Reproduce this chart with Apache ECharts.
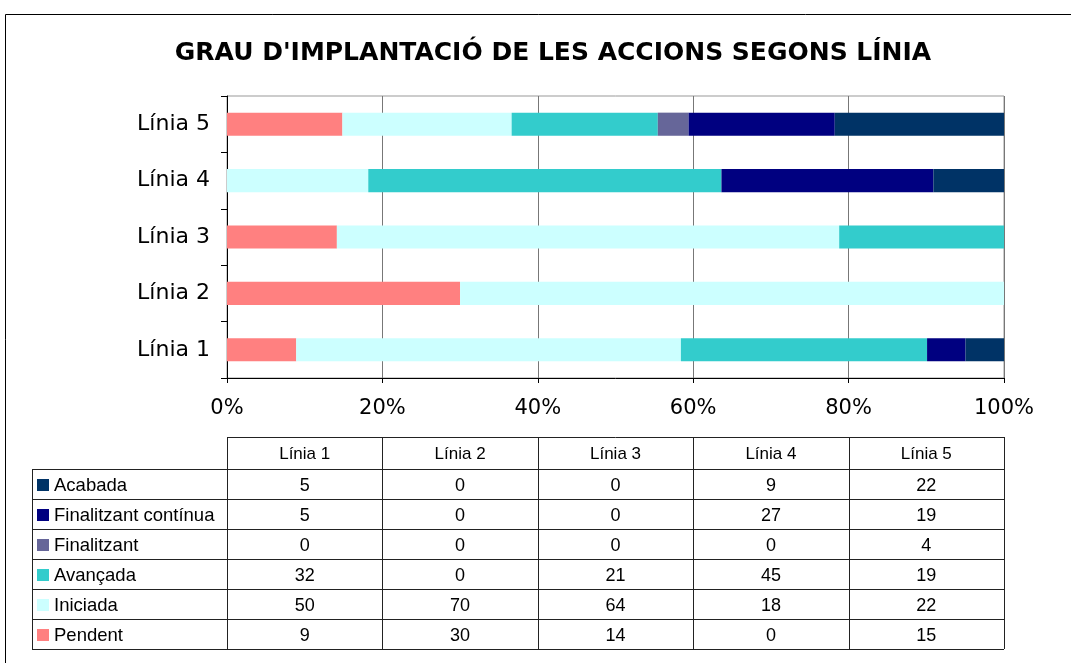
<!DOCTYPE html>
<html>
<head>
<meta charset="utf-8">
<script src="https://cdn.jsdelivr.net/npm/echarts@6/dist/echarts.min.js"></script>
<style>
  html, body { margin: 0; padding: 0; background: #fff; }
  #main { width: 1071px; height: 663px; }
</style>
</head>
<body>
<div id="main"></div>
<script>
var myChart = echarts.init(document.getElementById('main'));

// data
var linies = ['Línia 1', 'Línia 2', 'Línia 3', 'Línia 4', 'Línia 5'];
var estats = ['Pendent', 'Iniciada', 'Avançada', 'Finalitzant', 'Finalitzant contínua', 'Acabada'];
var colors = ['#FF8080', '#CCFFFF', '#33CCCC', '#666699', '#000080', '#003366'];
var pendent = [9, 30, 14, 0, 15];
var iniciada = [50, 70, 64, 18, 22];
var avancada = [32, 0, 21, 45, 19];
var finalitzant = [0, 0, 0, 0, 4];
var finalitzantContinua = [5, 0, 0, 27, 19];
var acabada = [5, 0, 0, 9, 22];
var xTicks = [0, 20, 40, 60, 80, 100];

var values = [pendent, iniciada, avancada, finalitzant, finalitzantContinua, acabada];

// totals per línia, to draw 100% stacked bars
var totals = linies.map(function (l, i) {
    var s = 0;
    values.forEach(function (v) { s += v[i]; });
    return s;
});

var series = estats.map(function (name, k) {
    return {
        name: name,
        type: 'bar',
        stack: 'total',
        barWidth: '41%',
        itemStyle: {color: colors[k]},
        data: values[k].map(function (v, i) { return v / totals[i] * 100; })
    };
});

// layout of the plot and the data table
var gLeft = 227, gRight = 1004, gTop = 96, gBottom = 378;
var colW = (gRight - gLeft) / linies.length;
var labelLeft = 32;
var headTop = 437, headBottom = 469, rowH = 30;
var lineColor = '#222';
var tableFont = '"Liberation Sans", Arial, sans-serif';

var graphics = [];
// outer frame
graphics.push({
    type: 'rect', shape: {x: 5.5, y: 14.5, width: 1100, height: 700},
    style: {fill: 'none', stroke: '#000', lineWidth: 1}, silent: true
});

function hline(x1, x2, y) {
    graphics.push({type: 'line', shape: {x1: x1, y1: y + 0.5, x2: x2, y2: y + 0.5},
        style: {stroke: lineColor, lineWidth: 1}, silent: true});
}
function vline(x, y1, y2) {
    graphics.push({type: 'line', shape: {x1: x + 0.5, y1: y1, x2: x + 0.5, y2: y2},
        style: {stroke: lineColor, lineWidth: 1}, silent: true});
}

var rowsOrder = estats.slice().reverse(); // Acabada first
var nRows = rowsOrder.length;
var tableBottom = headBottom + nRows * rowH;

hline(gLeft, gRight, headTop);
for (var r = 0; r <= nRows; r++) {
    hline(labelLeft, gRight, headBottom + r * rowH);
}
vline(labelLeft, headBottom, tableBottom);
for (var c = 0; c <= linies.length; c++) {
    vline(Math.round(gLeft + c * colW), headTop, tableBottom);
}

// header
linies.forEach(function (l, i) {
    graphics.push({
        type: 'text', silent: true,
        style: {
            text: l, x: gLeft + (i + 0.5) * colW, y: (headTop + headBottom) / 2 + 1,
            align: 'center', verticalAlign: 'middle',
            font: '17px ' + tableFont, fill: '#000'
        }
    });
});

// rows
rowsOrder.forEach(function (name, r) {
    var k = estats.indexOf(name);
    var cy = headBottom + r * rowH + rowH / 2 + 2;
    graphics.push({
        type: 'rect', silent: true,
        shape: {x: 37, y: cy - 7, width: 12, height: 12},
        style: {fill: colors[k]}
    });
    graphics.push({
        type: 'text', silent: true,
        style: {
            text: name, x: 54, y: cy, align: 'left', verticalAlign: 'middle',
            font: '18.5px ' + tableFont, fill: '#000'
        }
    });
    values[k].forEach(function (v, i) {
        graphics.push({
            type: 'text', silent: true,
            style: {
                text: String(v), x: gLeft + (i + 0.5) * colW, y: cy,
                align: 'center', verticalAlign: 'middle',
                font: '18px ' + tableFont, fill: '#000'
            }
        });
    });
});

var option = {
    animation: false,
    backgroundColor: '#fff',
    title: {
        text: "GRAU D'IMPLANTACIÓ DE LES ACCIONS SEGONS LÍNIA",
        left: 548, top: 36, textAlign: 'center',
        textStyle: {fontFamily: '"DejaVu Sans", Verdana, sans-serif', fontWeight: 'bold', fontSize: 25, color: '#000'}
    },
    grid: {
        left: gLeft, top: gTop, width: gRight - gLeft, height: gBottom - gTop,
        show: true, borderColor: '#999', borderWidth: 1, containLabel: false
    },
    xAxis: {
        type: 'value', min: xTicks[0], max: xTicks[xTicks.length - 1],
        interval: xTicks[1] - xTicks[0],
        axisLine: {show: true, lineStyle: {color: '#000', width: 1}},
        axisTick: {show: true, length: 5, lineStyle: {color: '#000'}},
        splitLine: {show: true, lineStyle: {color: '#777', width: 1}},
        axisLabel: {
            formatter: '{value}%', margin: 20, color: '#000',
            fontFamily: '"DejaVu Sans", Verdana, sans-serif', fontSize: 21
        }
    },
    yAxis: {
        type: 'category', data: linies,
        axisLine: {show: true, lineStyle: {color: '#000', width: 1}},
        axisTick: {show: true, length: 6, lineStyle: {color: '#000'}},
        axisLabel: {
            margin: 17, color: '#000',
            fontFamily: '"DejaVu Sans", Verdana, sans-serif', fontSize: 22
        }
    },
    graphic: graphics,
    series: series
};

myChart.setOption(option);
</script>
</body>
</html>
